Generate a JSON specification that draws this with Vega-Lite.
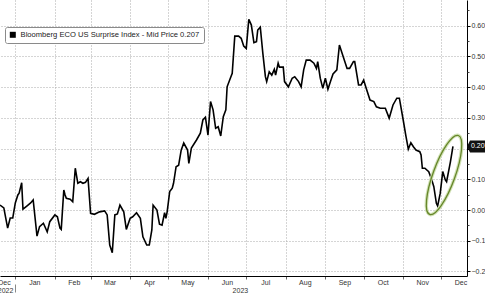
{
  "$schema": "https://vega.github.io/schema/vega-lite/v6.json",
  "width": 467,
  "height": 276,
  "autosize": {"type": "none"},
  "padding": {"left": 0, "top": 0, "right": 18, "bottom": 18},
  "background": "white",
  "config": {
    "view": {"stroke": null},
    "font": "Liberation Sans",
    "axis": {"labelFont": "Liberation Sans", "labelFontSize": 7, "labelColor": "#333", "title": null}
  },
  "datasets": {
    "series": [
      {"date": "2022-12-20", "value": 0.016}, {"date": "2022-12-23", "value": 0.007}, {"date": "2022-12-26", "value": -0.059},
      {"date": "2022-12-28", "value": -0.026}, {"date": "2022-12-30", "value": -0.026}, {"date": "2023-01-01", "value": 0.023},
      {"date": "2023-01-03", "value": 0.049}, {"date": "2023-01-04", "value": 0.055}, {"date": "2023-01-06", "value": 0.089},
      {"date": "2023-01-07", "value": 0.003}, {"date": "2023-01-10", "value": 0.013}, {"date": "2023-01-13", "value": 0.023},
      {"date": "2023-01-15", "value": 0.033}, {"date": "2023-01-18", "value": -0.085}, {"date": "2023-01-20", "value": -0.054},
      {"date": "2023-01-23", "value": -0.043}, {"date": "2023-01-26", "value": -0.071}, {"date": "2023-01-28", "value": -0.038},
      {"date": "2023-02-01", "value": -0.016}, {"date": "2023-02-03", "value": -0.022}, {"date": "2023-02-05", "value": -0.059},
      {"date": "2023-02-06", "value": -0.063}, {"date": "2023-02-08", "value": 0.065}, {"date": "2023-02-09", "value": 0.049},
      {"date": "2023-02-10", "value": 0.038}, {"date": "2023-02-13", "value": 0.035}, {"date": "2023-02-15", "value": 0.027},
      {"date": "2023-02-17", "value": 0.136}, {"date": "2023-02-19", "value": 0.087}, {"date": "2023-02-21", "value": 0.092},
      {"date": "2023-02-23", "value": 0.087}, {"date": "2023-02-25", "value": 0.090}, {"date": "2023-02-27", "value": 0.103},
      {"date": "2023-03-01", "value": -0.011}, {"date": "2023-03-04", "value": -0.014}, {"date": "2023-03-08", "value": -0.006},
      {"date": "2023-03-12", "value": -0.003}, {"date": "2023-03-14", "value": -0.016}, {"date": "2023-03-16", "value": -0.114},
      {"date": "2023-03-18", "value": -0.139}, {"date": "2023-03-20", "value": -0.016}, {"date": "2023-03-22", "value": -0.013},
      {"date": "2023-03-24", "value": 0.016}, {"date": "2023-03-27", "value": -0.006}, {"date": "2023-03-29", "value": -0.063},
      {"date": "2023-04-01", "value": -0.027}, {"date": "2023-04-03", "value": -0.022}, {"date": "2023-04-06", "value": -0.009},
      {"date": "2023-04-09", "value": -0.027}, {"date": "2023-04-11", "value": -0.087}, {"date": "2023-04-14", "value": -0.114},
      {"date": "2023-04-16", "value": -0.114}, {"date": "2023-04-18", "value": -0.065}, {"date": "2023-04-19", "value": 0.016},
      {"date": "2023-04-22", "value": 0.000}, {"date": "2023-04-24", "value": -0.046}, {"date": "2023-04-26", "value": -0.049},
      {"date": "2023-04-28", "value": -0.009}, {"date": "2023-04-29", "value": -0.027}, {"date": "2023-04-30", "value": -0.006},
      {"date": "2023-05-02", "value": 0.060}, {"date": "2023-05-04", "value": 0.071}, {"date": "2023-05-05", "value": 0.087},
      {"date": "2023-05-07", "value": 0.141}, {"date": "2023-05-09", "value": 0.146}, {"date": "2023-05-11", "value": 0.195},
      {"date": "2023-05-13", "value": 0.218}, {"date": "2023-05-16", "value": 0.195}, {"date": "2023-05-17", "value": 0.152},
      {"date": "2023-05-19", "value": 0.202}, {"date": "2023-05-23", "value": 0.228}, {"date": "2023-05-26", "value": 0.250},
      {"date": "2023-05-28", "value": 0.293}, {"date": "2023-05-30", "value": 0.302}, {"date": "2023-06-01", "value": 0.244},
      {"date": "2023-06-03", "value": 0.353}, {"date": "2023-06-05", "value": 0.326}, {"date": "2023-06-07", "value": 0.266},
      {"date": "2023-06-09", "value": 0.271}, {"date": "2023-06-11", "value": 0.241}, {"date": "2023-06-13", "value": 0.304},
      {"date": "2023-06-15", "value": 0.326}, {"date": "2023-06-16", "value": 0.401}, {"date": "2023-06-18", "value": 0.423},
      {"date": "2023-06-20", "value": 0.445}, {"date": "2023-06-22", "value": 0.566}, {"date": "2023-06-25", "value": 0.566},
      {"date": "2023-06-27", "value": 0.559}, {"date": "2023-06-29", "value": 0.534}, {"date": "2023-07-01", "value": 0.526},
      {"date": "2023-07-03", "value": 0.621}, {"date": "2023-07-05", "value": 0.602}, {"date": "2023-07-07", "value": 0.545},
      {"date": "2023-07-09", "value": 0.548}, {"date": "2023-07-10", "value": 0.586}, {"date": "2023-07-12", "value": 0.595},
      {"date": "2023-07-14", "value": 0.510}, {"date": "2023-07-16", "value": 0.434}, {"date": "2023-07-17", "value": 0.418},
      {"date": "2023-07-19", "value": 0.450}, {"date": "2023-07-21", "value": 0.439}, {"date": "2023-07-23", "value": 0.458},
      {"date": "2023-07-24", "value": 0.439}, {"date": "2023-07-26", "value": 0.478}, {"date": "2023-07-27", "value": 0.465},
      {"date": "2023-07-30", "value": 0.465}, {"date": "2023-07-31", "value": 0.418}, {"date": "2023-08-03", "value": 0.401},
      {"date": "2023-08-06", "value": 0.429}, {"date": "2023-08-08", "value": 0.434}, {"date": "2023-08-11", "value": 0.418},
      {"date": "2023-08-13", "value": 0.401}, {"date": "2023-08-15", "value": 0.456}, {"date": "2023-08-17", "value": 0.488},
      {"date": "2023-08-20", "value": 0.488}, {"date": "2023-08-23", "value": 0.478}, {"date": "2023-08-25", "value": 0.461},
      {"date": "2023-08-26", "value": 0.483}, {"date": "2023-08-28", "value": 0.429}, {"date": "2023-08-30", "value": 0.396},
      {"date": "2023-09-01", "value": 0.429}, {"date": "2023-09-03", "value": 0.393}, {"date": "2023-09-05", "value": 0.418},
      {"date": "2023-09-07", "value": 0.443}, {"date": "2023-09-10", "value": 0.456}, {"date": "2023-09-12", "value": 0.537},
      {"date": "2023-09-15", "value": 0.499}, {"date": "2023-09-18", "value": 0.461}, {"date": "2023-09-20", "value": 0.461},
      {"date": "2023-09-23", "value": 0.483}, {"date": "2023-09-24", "value": 0.483}, {"date": "2023-09-27", "value": 0.407},
      {"date": "2023-09-29", "value": 0.407}, {"date": "2023-10-01", "value": 0.423}, {"date": "2023-10-03", "value": 0.396},
      {"date": "2023-10-06", "value": 0.358}, {"date": "2023-10-09", "value": 0.353}, {"date": "2023-10-11", "value": 0.336},
      {"date": "2023-10-14", "value": 0.331}, {"date": "2023-10-18", "value": 0.331}, {"date": "2023-10-21", "value": 0.299},
      {"date": "2023-10-24", "value": 0.342}, {"date": "2023-10-27", "value": 0.364}, {"date": "2023-10-29", "value": 0.364},
      {"date": "2023-11-01", "value": 0.293}, {"date": "2023-11-03", "value": 0.244}, {"date": "2023-11-05", "value": 0.198},
      {"date": "2023-11-07", "value": 0.219}, {"date": "2023-11-09", "value": 0.206}, {"date": "2023-11-11", "value": 0.195},
      {"date": "2023-11-14", "value": 0.190}, {"date": "2023-11-15", "value": 0.179}, {"date": "2023-11-16", "value": 0.136},
      {"date": "2023-11-18", "value": 0.136}, {"date": "2023-11-21", "value": 0.125}, {"date": "2023-11-23", "value": 0.103},
      {"date": "2023-11-25", "value": 0.076}, {"date": "2023-11-27", "value": 0.022}, {"date": "2023-11-28", "value": 0.013},
      {"date": "2023-11-30", "value": 0.054}, {"date": "2023-12-02", "value": 0.125}, {"date": "2023-12-04", "value": 0.098},
      {"date": "2023-12-05", "value": 0.092}, {"date": "2023-12-08", "value": 0.157}, {"date": "2023-12-10", "value": 0.207}
    ],
    "ring": [{"date": "2023-12-03", "value": 0.114}],
    "tag": [{"date": "2023-12-21", "value": 0.207, "label": "0.207"}]
  },
  "resolve": {"axis": {"x": "independent", "y": "independent"}},
  "layer": [
    {
      "data": {"name": "series"},
      "mark": {"type": "line", "color": "#000", "strokeWidth": 1.6},
      "encoding": {
        "x": {
          "field": "date", "type": "temporal",
          "scale": {"type": "utc", "domain": [{"year": 2022, "month": 12, "date": 20, "utc": true}, {"year": 2023, "month": 12, "date": 21, "utc": true}]},
          "axis": {
            "orient": "bottom",
            "values": [
              {"year": 2022, "month": 12, "date": 20, "utc": true}, {"year": 2023, "month": 1, "date": 1, "utc": true},
              {"year": 2023, "month": 2, "date": 1, "utc": true}, {"year": 2023, "month": 3, "date": 1, "utc": true},
              {"year": 2023, "month": 4, "date": 1, "utc": true}, {"year": 2023, "month": 5, "date": 1, "utc": true},
              {"year": 2023, "month": 6, "date": 1, "utc": true}, {"year": 2023, "month": 7, "date": 1, "utc": true},
              {"year": 2023, "month": 8, "date": 1, "utc": true}, {"year": 2023, "month": 9, "date": 1, "utc": true},
              {"year": 2023, "month": 10, "date": 1, "utc": true}, {"year": 2023, "month": 11, "date": 1, "utc": true},
              {"year": 2023, "month": 12, "date": 1, "utc": true}
            ],
            "format": "%b",
            "labelOffset": {"condition": {"test": "utcyear(datum.value) < 2023", "value": 4}, "value": 19},
            "labelPadding": -1,
            "labelFlush": false,
            "labelOverlap": false,
            "tickSize": 3,
            "tickColor": {"condition": {"test": "utcyear(datum.value) < 2023", "value": "transparent"}, "value": "#666"},
            "domainColor": "#000",
            "domainWidth": 1,
            "grid": true,
            "gridDash": [1, 2],
            "gridColor": {"condition": {"test": "utcyear(datum.value) < 2023", "value": "transparent"}, "value": "#aaa"},
            "gridWidth": 1
          }
        },
        "y": {
          "field": "value", "type": "quantitative",
          "scale": {"domain": [-0.2148, 0.6836], "nice": false, "zero": false},
          "axis": {
            "orient": "right",
            "values": [-0.2, -0.1, 0, 0.1, 0.2, 0.3, 0.4, 0.5, 0.6],
            "format": ".2f",
            "tickSize": 3,
            "tickColor": "#000",
            "labelPadding": 1,
            "labelFlush": false,
            "labelOverlap": false,
            "domainColor": "#000",
            "grid": true,
            "gridDash": [1, 2],
            "gridColor": "#aaa"
          }
        },
        "color": {
          "datum": "Bloomberg ECO US Surprise Index - Mid Price 0.207",
          "scale": {"range": ["#000000"]},
          "legend": {
            "orient": "none", "legendX": 5, "legendY": 27, "title": null,
            "labelFont": "Liberation Sans", "labelFontSize": 7.6, "labelColor": "#222", "labelLimit": 400,
            "strokeColor": "#8a8a8a", "fillColor": "#ffffff", "padding": 4, "cornerRadius": 2,
            "symbolType": "square", "symbolSize": 36, "labelOffset": 4,
            "encode": {"symbols": {"update": {"fill": {"value": "#000"}, "stroke": {"value": "#000"}, "strokeWidth": {"value": 0}, "shape": {"value": "square"}, "size": {"value": 36}}}}
          }
        }
      }
    },
    {
      "data": {"name": "ring"},
      "mark": {"type": "point", "shape": "M0.342,-0.94A1,0.262,-70,1,0,-0.342,0.94A1,0.262,-70,1,0,0.342,-0.94Z", "size": 7056, "filled": false, "color": "#cddfae", "strokeWidth": 3.5, "opacity": 0.9},
      "encoding": {
        "x": {
          "field": "date", "type": "temporal",
          "scale": {"type": "utc", "domain": [{"year": 2022, "month": 12, "date": 20, "utc": true}, {"year": 2023, "month": 12, "date": 21, "utc": true}]},
          "axis": {
            "orient": "bottom",
            "offset": 8,
            "values": [{"year": 2022, "month": 12, "date": 24, "utc": true}, {"year": 2023, "month": 1, "date": 1, "utc": true}, {"year": 2023, "month": 6, "date": 26, "utc": true}],
            "format": "%Y",
            "labelExpr": "utcmonth(datum.value) == 0 ? '' : datum.label",
            "labelOffset": 0,
            "labelPadding": -6,
            "labelFlush": false,
            "labelOverlap": false,
            "domain": false,
            "grid": false,
            "tickSize": 8,
            "tickColor": {"condition": {"test": "utcmonth(datum.value) == 0", "value": "#888"}, "value": "transparent"}
          }
        },
        "y": {
          "field": "value", "type": "quantitative",
          "scale": {"domain": [-0.2148, 0.6836], "nice": false, "zero": false},
          "axis": {
            "orient": "right",
            "values": [-0.15, -0.05, 0.05, 0.15, 0.25, 0.35, 0.45, 0.55, 0.65],
            "labels": false, "domain": false, "grid": false,
            "tickSize": 2, "tickColor": "#444"
          }
        }
      }
    },
    {
      "data": {"name": "ring"},
      "mark": {"type": "point", "shape": "M0.342,-0.94A1,0.262,-70,1,0,-0.342,0.94A1,0.262,-70,1,0,0.342,-0.94Z", "size": 7056, "filled": false, "color": "#66862a", "strokeWidth": 1.3, "opacity": 1},
      "encoding": {
        "x": {"field": "date", "type": "temporal", "scale": {"type": "utc", "domain": [{"year": 2022, "month": 12, "date": 20, "utc": true}, {"year": 2023, "month": 12, "date": 21, "utc": true}]}, "axis": null},
        "y": {"field": "value", "type": "quantitative", "scale": {"domain": [-0.2148, 0.6836], "nice": false, "zero": false}, "axis": null}
      }
    },
    {
      "data": {"name": "tag"},
      "mark": {"type": "point", "shape": "M0,0L0.15,-0.3L1,-0.3L1,0.3L0.15,0.3Z", "size": 1600, "filled": true, "color": "#111", "strokeWidth": 0, "opacity": 1},
      "encoding": {
        "x": {"field": "date", "type": "temporal", "scale": {"type": "utc", "domain": [{"year": 2022, "month": 12, "date": 20, "utc": true}, {"year": 2023, "month": 12, "date": 21, "utc": true}]}, "axis": null},
        "y": {"field": "value", "type": "quantitative", "scale": {"domain": [-0.2148, 0.6836], "nice": false, "zero": false}, "axis": null}
      }
    },
    {
      "data": {"name": "tag"},
      "mark": {"type": "text", "align": "left", "baseline": "middle", "dx": 4, "fontSize": 7, "color": "#fff", "font": "Liberation Sans"},
      "encoding": {
        "x": {"field": "date", "type": "temporal", "scale": {"type": "utc", "domain": [{"year": 2022, "month": 12, "date": 20, "utc": true}, {"year": 2023, "month": 12, "date": 21, "utc": true}]}, "axis": null},
        "y": {"field": "value", "type": "quantitative", "scale": {"domain": [-0.2148, 0.6836], "nice": false, "zero": false}, "axis": null},
        "text": {"field": "label"}
      }
    }
  ]
}
